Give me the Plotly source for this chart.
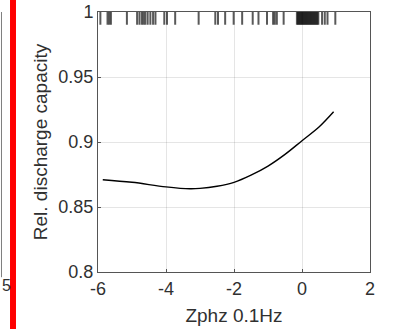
import plotly.graph_objects as go

# Fitted curve
curve_x = [-5.86, -5.0, -4.0, -3.3, -3.0, -2.5, -2.0, -1.5, -1.0, -0.5, 0.0, 0.5, 0.93]
curve_y = [0.871, 0.869, 0.8655, 0.864, 0.8643, 0.866, 0.869, 0.8745, 0.8815, 0.8905, 0.901, 0.9115, 0.9232]

# Rug (observation positions shown at the top)
rug_x = [-5.93, -5.72, -5.67, -5.62, -5.15, -4.85, -4.78, -4.71, -4.66, -4.61, -4.54,
         -4.46, -4.38, -4.31, -4.05, -3.97, -3.73, -3.04, -2.55, -2.47, -2.26, -2.01,
         -1.76, -1.45, -1.28, -1.03, -0.85, -0.80, -0.74, -0.54,
         -0.15, -0.12, -0.09, -0.06, -0.03, 0.0, 0.03, 0.06, 0.09, 0.12, 0.15, 0.18,
         0.21, 0.24, 0.27, 0.30, 0.33, 0.36, 0.39, 0.42, 0.45, 0.48,
         0.59, 0.67, 0.75, 0.98]
rug_top = 1.0
rug_bottom = 0.9902

x_ticks = [-6, -4, -2, 0, 2]
y_ticks = [0.8, 0.85, 0.9, 0.95, 1.0]
y_tick_labels = ["0.8", "0.85", "0.9", "0.95", "1"]

rx, ry = [], []
for v in rug_x:
    rx += [v, v, None]
    ry += [rug_top, rug_bottom, None]

FONT = "Liberation Sans, Arial"
TXT = "#303030"

fig = go.Figure()
fig.add_trace(go.Scatter(x=rx, y=ry, mode="lines",
                         line=dict(color="rgba(0,0,0,0.65)", width=2),
                         hoverinfo="skip", showlegend=False))
fig.add_trace(go.Scatter(x=curve_x, y=curve_y, mode="lines", line_shape="spline",
                         line=dict(color="#000000", width=1.4), showlegend=False))

axis_common = dict(showline=True, linecolor="#555555", linewidth=1, mirror=True,
                   showgrid=True, gridcolor="rgba(38,38,38,0.12)", gridwidth=1,
                   ticks="inside", ticklen=3, tickcolor="#555555", zeroline=False,
                   automargin=False,
                   tickfont=dict(family=FONT, size=18, color=TXT))

fig.update_xaxes(range=[-6, 2], tickvals=x_ticks, ticktext=[str(t) for t in x_ticks],
                 title=dict(text="Zphz 0.1Hz", standoff=11,
                            font=dict(family=FONT, size=19, color=TXT)),
                 **axis_common)
fig.update_yaxes(range=[0.8, 1.0], tickvals=y_ticks, ticktext=y_tick_labels,
                 title=dict(text="Rel. discharge capacity", standoff=5,
                            font=dict(family=FONT, size=19, color=TXT)),
                 **axis_common)

# Edge of neighbouring panel and red separator
fig.add_shape(type="line", xref="paper", yref="paper", x0=-0.3548, x1=-0.3548, y0=-0.02, y1=1,
              line=dict(color="#7f7f7f", width=1))
fig.add_shape(type="rect", xref="paper", yref="paper", x0=-0.3235, x1=-0.3015, y0=-0.3, y1=1.1,
              fillcolor="#ff0000", line=dict(width=0))
fig.add_annotation(text="5", xref="paper", yref="paper", x=-0.3603, y=-0.01,
                   xanchor="left", yanchor="top", showarrow=False,
                   font=dict(family=FONT, size=16, color=TXT))

fig.update_layout(width=397, height=329, margin=dict(l=98, r=27, t=12, b=57),
                  plot_bgcolor="white", paper_bgcolor="white")
fig.write_html("out.html")
